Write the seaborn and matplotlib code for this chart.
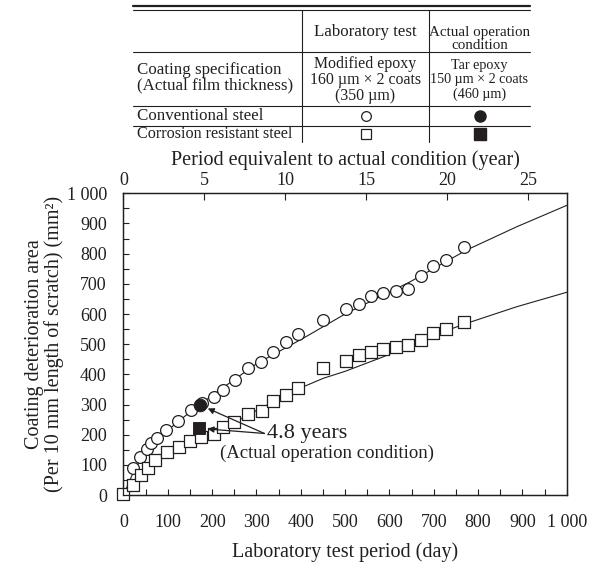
"""
Coating deterioration vs. laboratory test period
Conventional steel vs corrosion resistant steel (scratch test)
"""

import matplotlib
matplotlib.use('Agg')
import matplotlib.pyplot as plt
import seaborn as sns
from matplotlib.ticker import MultipleLocator, FuncFormatter

sns.set_style("ticks")
plt.rcParams['font.family'] = ['Liberation Serif', 'DejaVu Serif']
INK = '#231f20'

# ============================================================================
# DATA
# ============================================================================
DAYS_PER_YEAR = 36.5  # 4.8 years ~ 175 lab days

# Laboratory test - conventional steel (open circles)
conv_day = [22, 37, 52, 61, 76, 97, 124, 152, 178, 204, 224, 252, 282, 310,
            338, 367, 394, 451, 501, 531, 558, 585, 614, 643, 671, 698, 728, 769]
conv_area = [88, 125, 151, 173, 188, 215, 245, 282, 306, 326, 348, 382, 420, 442,
             473, 506, 534, 580, 615, 632, 660, 669, 675, 683, 727, 759, 779, 821]

# Laboratory test - corrosion resistant steel (open squares)
crs_day = [0, 22, 40, 55, 70, 98, 125, 151, 176, 205, 225, 250, 282, 312,
           338, 367, 394, 451, 501, 531, 558, 585, 614, 643, 671, 698, 728, 769]
crs_area = [3, 34, 66, 90, 116, 141, 159, 180, 192, 202, 224, 243, 268, 277,
            310, 330, 355, 420, 443, 465, 474, 484, 490, 497, 514, 537, 549, 573]

# Trend lines
conv_fit_day = [0, 25, 50, 100, 150, 200, 300, 406, 500, 647, 774, 887, 1000]
conv_fit_area = [0, 85, 140, 215, 275, 330, 435, 520, 600, 707, 812, 889, 960]
crs_fit_day = [0, 25, 50, 100, 150, 200, 250, 300, 398, 451, 500, 586, 700, 774, 887, 1000]
crs_fit_area = [0, 40, 80, 135, 175, 205, 240, 280, 354, 387, 410, 458, 530, 569, 624, 672]

# Actual operation condition (filled), 4.8 years
act_day = [173, 171]
act_area = [298, 221]

thousands = FuncFormatter(lambda v, p: f"{int(v):,}".replace(",", " "))

# ============================================================================
# FIGURE
# ============================================================================
fig = plt.figure(figsize=(5.98, 5.62), dpi=100)
ax = fig.add_axes([0.2065, 0.1192, 0.7412, 0.5368])

sns.lineplot(x=conv_fit_day, y=conv_fit_area, ax=ax, color=INK, lw=0.8,
             sort=False, estimator=None, zorder=2)
sns.lineplot(x=crs_fit_day, y=crs_fit_area, ax=ax, color=INK, lw=0.8,
             sort=False, estimator=None, zorder=2)

sns.scatterplot(x=conv_day, y=conv_area, ax=ax, marker='o', s=72,
                facecolor='white', edgecolor=INK, linewidth=0.9, zorder=3, clip_on=False)
sns.scatterplot(x=crs_day, y=crs_area, ax=ax, marker='s', s=64,
                facecolor='white', edgecolor=INK, linewidth=0.9, zorder=3, clip_on=False)
sns.scatterplot(x=act_day[:1], y=act_area[:1], ax=ax, marker='o', s=82,
                color=INK, edgecolor=INK, zorder=4)
sns.scatterplot(x=act_day[1:], y=act_area[1:], ax=ax, marker='s', s=68,
                color=INK, edgecolor=INK, zorder=4)

# 4.8 years annotation
ax.text(324, 205, "4.8 years", fontsize=16, color=INK, ha='left', va='center')
ax.text(218, 139, "(Actual operation condition)", fontsize=13.5, color=INK,
        ha='left', va='center')
for xd, yd in zip(act_day, act_area):
    ax.annotate('', xy=(xd, yd), xytext=(318, 204),
                arrowprops=dict(arrowstyle='-|>', color=INK, lw=0.9,
                                mutation_scale=9, shrinkA=0, shrinkB=6))

ax.set_xlim(0, 1000)
ax.set_ylim(0, 1000)
ax.xaxis.set_major_locator(MultipleLocator(100))
ax.xaxis.set_minor_locator(MultipleLocator(50))
ax.yaxis.set_major_locator(MultipleLocator(100))
ax.yaxis.set_minor_locator(MultipleLocator(50))
ax.xaxis.set_major_formatter(thousands)
ax.yaxis.set_major_formatter(thousands)
ax.tick_params(which='both', direction='in', length=4, width=0.8, color=INK,
               top=False, right=False)
ax.tick_params(axis='x', which='major', labelsize=13, pad=14, labelcolor=INK)
ax.tick_params(axis='y', which='major', labelsize=13, pad=12, labelcolor=INK)
for sp in ax.spines.values():
    sp.set_linewidth(0.9)
    sp.set_color(INK)

ax.set_xlabel("Laboratory test period (day)", fontsize=14.5, color=INK, labelpad=8)
ax.set_ylabel("Coating deterioration area\n(Per 10 mm length of scratch) (mm²)",
              fontsize=14.5, color=INK, labelpad=2, linespacing=1.0)

# top axis: equivalent years
ax2 = ax.twiny()
ax2.set_xlim(0, 1000 / DAYS_PER_YEAR)
ax2.xaxis.set_major_locator(MultipleLocator(5))
ax2.tick_params(axis='x', direction='in', length=5, width=0.8, color=INK,
                labelsize=13, pad=3, labelcolor=INK)
ax2.set_xlabel("Period equivalent to actual condition (year)", fontsize=14.5,
               color=INK, labelpad=5)
for sp in ax2.spines.values():
    sp.set_linewidth(0.9)
    sp.set_color(INK)

# ============================================================================
# LEGEND TABLE (pixel layout)
# ============================================================================
tax = fig.add_axes([0, 0, 1, 1], zorder=-1)
tax.set_xlim(0, 598)
tax.set_ylim(562, 0)
tax.axis('off')

tl, tr, c1, c2 = 133, 530, 302, 429
tax.plot([tl, tr], [6, 6], color=INK, lw=1.6)
tax.plot([tl, tr], [10, 10], color=INK, lw=0.8)
for yy in [52, 106, 126]:
    tax.plot([tl, tr], [yy, yy], color=INK, lw=0.8)
for xx in [c1, c2]:
    tax.plot([xx, xx], [10, 142], color=INK, lw=0.8)

ts = 12.2
ts2 = 11.4
ts3 = 10.2
mid2 = (c1 + c2) / 2
mid3 = (c2 + tr) / 2
tax.text(mid2, 32, "Laboratory test", fontsize=ts, ha='center', va='center', color=INK)
tax.text(mid3, 39, "Actual operation\ncondition", fontsize=ts3 + 0.6, ha='center',
         va='center', color=INK, linespacing=1.0)
tax.text(137, 78, "Coating specification\n(Actual film thickness)", fontsize=ts,
         ha='left', va='center', color=INK, linespacing=0.95)
tax.text(mid2, 80, "Modified epoxy\n160 µm × 2 coats\n(350 µm)", fontsize=ts2,
         ha='center', va='center', color=INK, linespacing=1.0)
tax.text(mid3, 80, "Tar epoxy\n150 µm × 2 coats\n(460 µm)", fontsize=ts3,
         ha='center', va='center', color=INK, linespacing=1.1)
tax.text(137, 116, "Conventional steel", fontsize=ts, ha='left', va='center', color=INK)
tax.text(137, 134, "Corrosion resistant steel", fontsize=ts - 0.6, ha='left',
         va='center', color=INK)

tax.plot([mid2], [116], marker='o', ms=7, mfc='white', mec=INK, mew=0.9)
tax.plot([mid3], [116], marker='o', ms=8, mfc=INK, mec=INK)
tax.plot([mid2], [134], marker='s', ms=7, mfc='white', mec=INK, mew=0.9)
tax.plot([mid3], [134], marker='s', ms=8, mfc=INK, mec=INK)

fig.savefig('out.png', dpi=100)
